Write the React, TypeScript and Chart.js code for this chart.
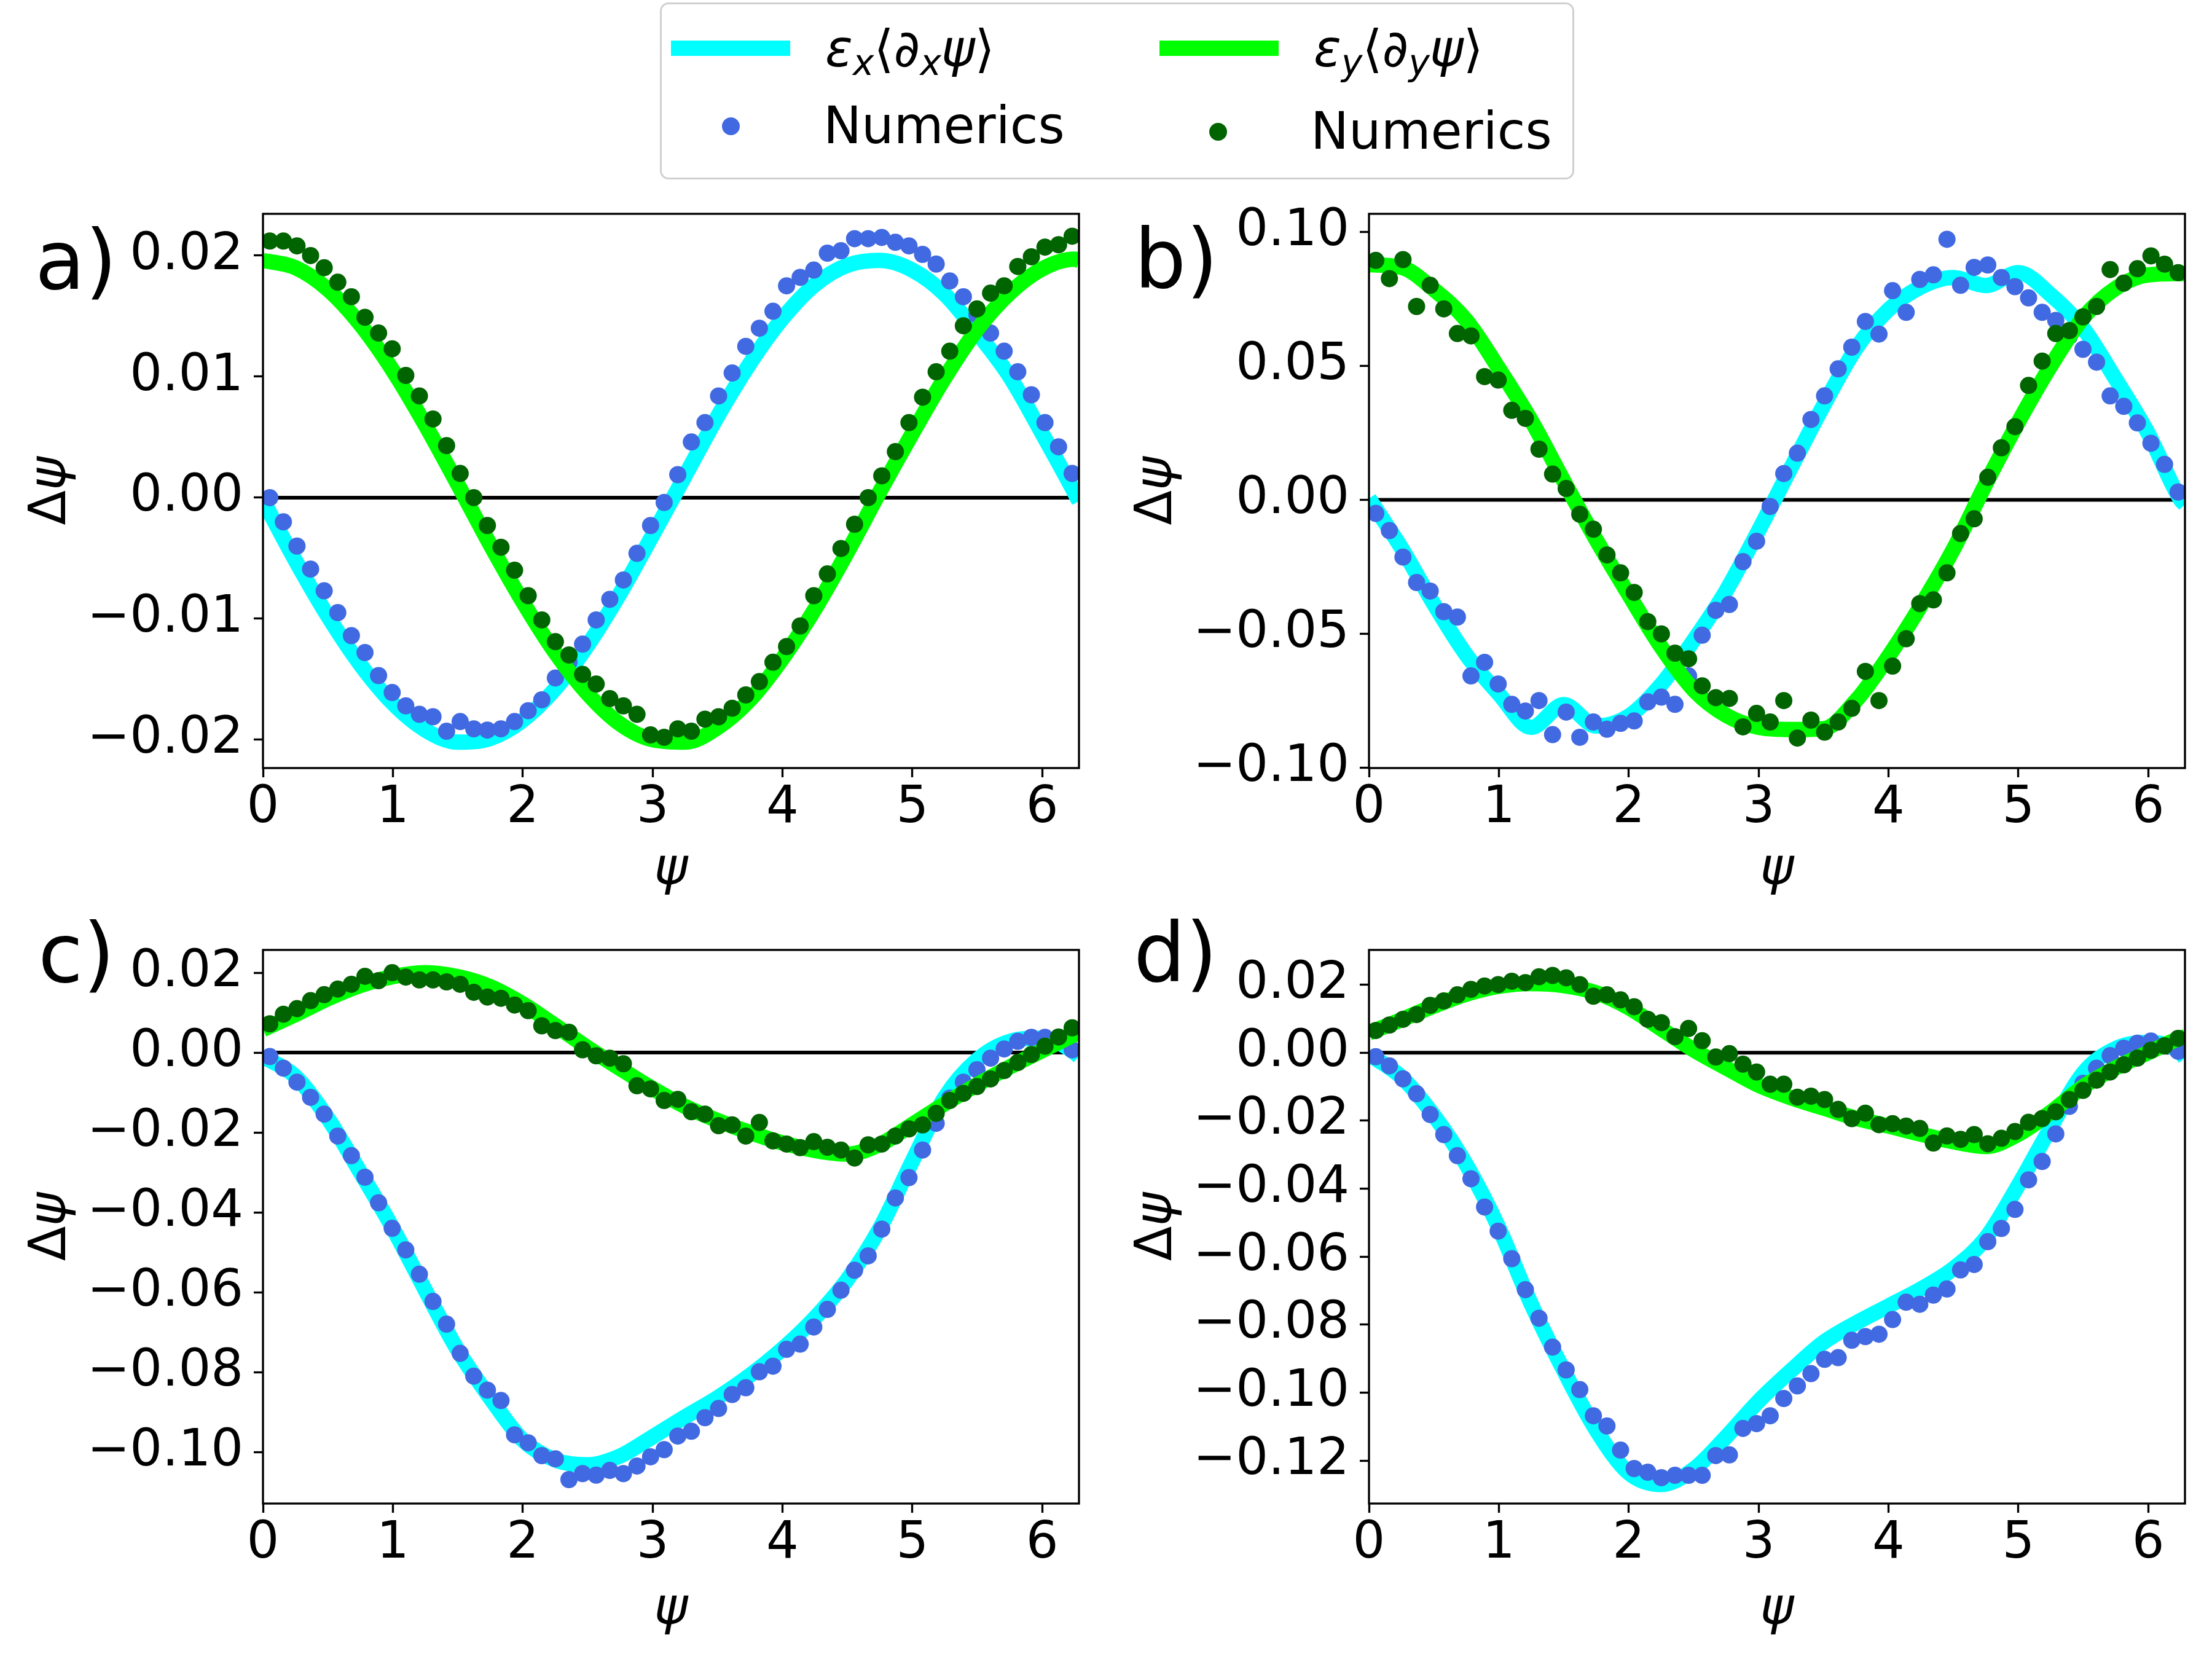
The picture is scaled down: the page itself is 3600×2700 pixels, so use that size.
import React, { useEffect, useRef } from 'react';
import { Chart, registerables } from 'chart.js';

Chart.register(...registerables);

const FONT = 'DejaVu Sans';
const X_MAX = 6.2832;
const X_TICKS = [0, 1, 2, 3, 4, 5, 6];
const ZERO_X = [0, 6.2832];
const ZERO_Y = [0, 0];
const X_TITLE = 'ψ';
const Y_TITLE_UPRIGHT = 'Δ';
const Y_TITLE_ITALIC = 'ψ';

const DOT_PSI = [
  0.0524, 0.1571, 0.2618, 0.3665, 0.4712, 0.5760, 0.6807, 0.7854, 0.8901, 0.9948,
  1.0996, 1.2043, 1.3090, 1.4137, 1.5184, 1.6232, 1.7279, 1.8326, 1.9373, 2.0420,
  2.1468, 2.2515, 2.3562, 2.4609, 2.5656, 2.6704, 2.7751, 2.8798, 2.9845, 3.0892,
  3.1940, 3.2987, 3.4034, 3.5081, 3.6128, 3.7176, 3.8223, 3.9270, 4.0317, 4.1364,
  4.2412, 4.3459, 4.4506, 4.5553, 4.6600, 4.7648, 4.8695, 4.9742, 5.0789, 5.1836,
  5.2884, 5.3931, 5.4978, 5.6025, 5.7072, 5.8120, 5.9167, 6.0214, 6.1261, 6.2308,
];

const LINE_PSI = [
  0, 0.25, 0.5, 0.75, 1.0, 1.25, 1.5, 1.75, 2.0, 2.25, 2.5, 2.75, 3.0, 3.25,
  3.5, 3.75, 4.0, 4.25, 4.5, 4.75, 5.0, 5.25, 5.5, 5.75, 6.0, 6.25, 6.2832,
];

// ---- panel a ----
const A_CYAN = [-0.0002, -0.0052, -0.0098, -0.0138, -0.0170, -0.0192, -0.0202, -0.0199, -0.0184, -0.0158, -0.0122, -0.0079, -0.0031, 0.0018, 0.0067, 0.0111, 0.0148, 0.0176, 0.0192, 0.0196, 0.0188, 0.0168, 0.0136, 0.0100, 0.0053, 0.0004, -0.0003];
const A_GREEN = [0.0196, 0.0190, 0.0172, 0.0143, 0.0105, 0.0060, 0.0011, -0.0039, -0.0086, -0.0128, -0.0162, -0.0187, -0.0200, -0.0202, -0.0190, -0.0167, -0.0133, -0.0092, -0.0045, 0.0005, 0.0053, 0.0099, 0.0139, 0.0169, 0.0189, 0.0197, 0.0196];
const A_BLUE = [
  0.0000, -0.0020, -0.0040, -0.0059, -0.0077, -0.0095, -0.0114, -0.0128, -0.0147, -0.0161,
  -0.0172, -0.0179, -0.0181, -0.0193, -0.0185, -0.0191, -0.0192, -0.0191, -0.0185, -0.0176,
  -0.0167, -0.0149, -0.0136, -0.0121, -0.0101, -0.0084, -0.0068, -0.0046, -0.0023, -0.0004,
  0.0019, 0.0046, 0.0062, 0.0084, 0.0103, 0.0125, 0.0140, 0.0154, 0.0175, 0.0182,
  0.0188, 0.0202, 0.0204, 0.0214, 0.0214, 0.0215, 0.0211, 0.0208, 0.0201, 0.0193,
  0.0179, 0.0166, 0.0151, 0.0136, 0.0121, 0.0104, 0.0085, 0.0062, 0.0042, 0.0020,
];
const A_DKGREEN = [
  0.0212, 0.0212, 0.0208, 0.0200, 0.0190, 0.0178, 0.0166, 0.0149, 0.0136, 0.0123,
  0.0101, 0.0084, 0.0065, 0.0043, 0.0020, 0.0000, -0.0023, -0.0041, -0.0060, -0.0081,
  -0.0101, -0.0119, -0.0130, -0.0146, -0.0154, -0.0166, -0.0172, -0.0179, -0.0196, -0.0198,
  -0.0191, -0.0193, -0.0183, -0.0181, -0.0174, -0.0163, -0.0152, -0.0136, -0.0123, -0.0106,
  -0.0081, -0.0063, -0.0042, -0.0022, 0.0000, 0.0018, 0.0038, 0.0062, 0.0083, 0.0104,
  0.0121, 0.0142, 0.0156, 0.0169, 0.0175, 0.0191, 0.0199, 0.0207, 0.0209, 0.0216,
];
const A_Y_TICKS = [-0.02, -0.01, 0, 0.01, 0.02];
const A_Y_MIN = -0.02234;
const A_Y_MAX = 0.02345;

// ---- panel b ----
const B_CYAN = [0.0005, -0.0180, -0.0390, -0.0580, -0.0725, -0.0850, -0.0765, -0.0845, -0.0808, -0.0690, -0.0525, -0.0340, -0.0115, 0.0120, 0.0352, 0.0565, 0.0710, 0.0795, 0.0830, 0.0800, 0.0848, 0.0765, 0.0640, 0.0450, 0.0248, 0.0000, -0.0017];
const B_GREEN = [0.0878, 0.0868, 0.0785, 0.0670, 0.0490, 0.0295, 0.0070, -0.0150, -0.0354, -0.0550, -0.0710, -0.0805, -0.0850, -0.0858, -0.0855, -0.0750, -0.0585, -0.0395, -0.0185, 0.0060, 0.0290, 0.0500, 0.0680, 0.0790, 0.0840, 0.0845, 0.0845];
const B_BLUE = [
  -0.0051, -0.0115, -0.0214, -0.0309, -0.0341, -0.0418, -0.0438, -0.0658, -0.0607, -0.0688,
  -0.0764, -0.0789, -0.0750, -0.0877, -0.0793, -0.0887, -0.0830, -0.0857, -0.0835, -0.0826,
  -0.0755, -0.0737, -0.0764, -0.0658, -0.0506, -0.0413, -0.0391, -0.0231, -0.0155, -0.0025,
  0.0098, 0.0174, 0.0300, 0.0388, 0.0489, 0.0570, 0.0666, 0.0619, 0.0781, 0.0700,
  0.0823, 0.0840, 0.0973, 0.0801, 0.0868, 0.0877, 0.0830, 0.0796, 0.0754, 0.0700,
  0.0670, 0.0610, 0.0562, 0.0514, 0.0388, 0.0349, 0.0287, 0.0211, 0.0132, 0.0029,
];
const B_DKGREEN = [
  0.0894, 0.0826, 0.0897, 0.0722, 0.0801, 0.0713, 0.0621, 0.0612, 0.0460, 0.0447,
  0.0334, 0.0304, 0.0189, 0.0096, 0.0042, -0.0054, -0.0110, -0.0206, -0.0273, -0.0346,
  -0.0455, -0.0501, -0.0573, -0.0594, -0.0695, -0.0739, -0.0742, -0.0848, -0.0798, -0.0830,
  -0.0750, -0.0890, -0.0823, -0.0868, -0.0830, -0.0779, -0.0641, -0.0750, -0.0621, -0.0519,
  -0.0388, -0.0374, -0.0273, -0.0126, -0.0071, 0.0084, 0.0194, 0.0273, 0.0427, 0.0518,
  0.0621, 0.0632, 0.0683, 0.0722, 0.0860, 0.0809, 0.0863, 0.0911, 0.0880, 0.0848,
];
const B_Y_TICKS = [-0.1, -0.05, 0, 0.05, 0.1];
const B_Y_MIN = -0.1002;
const B_Y_MAX = 0.1068;

// ---- panel c ----
const C_CYAN = [-0.0010, -0.0060, -0.0165, -0.0300, -0.0440, -0.0595, -0.0745, -0.0865, -0.0970, -0.1020, -0.1032, -0.1010, -0.0962, -0.0912, -0.0864, -0.0808, -0.0742, -0.0664, -0.0568, -0.0440, -0.0272, -0.0112, -0.0018, 0.0028, 0.0036, 0.0000, -0.0010];
const C_GREEN = [0.0058, 0.0095, 0.0135, 0.0168, 0.0190, 0.0200, 0.0190, 0.0165, 0.0122, 0.0068, 0.0012, -0.0040, -0.0090, -0.0135, -0.0170, -0.0200, -0.0226, -0.0245, -0.0254, -0.0230, -0.0180, -0.0128, -0.0080, -0.0036, 0.0005, 0.0045, 0.0050];
const C_BLUE = [
  -0.0010, -0.0039, -0.0074, -0.0112, -0.0154, -0.0209, -0.0258, -0.0312, -0.0376, -0.0440,
  -0.0494, -0.0555, -0.0623, -0.0680, -0.0753, -0.0810, -0.0845, -0.0871, -0.0957, -0.0977,
  -0.1009, -0.1017, -0.1069, -0.1054, -0.1058, -0.1046, -0.1054, -0.1035, -0.1012, -0.0994,
  -0.0960, -0.0948, -0.0914, -0.0891, -0.0856, -0.0839, -0.0799, -0.0785, -0.0743, -0.0730,
  -0.0687, -0.0643, -0.0595, -0.0545, -0.0509, -0.0442, -0.0364, -0.0313, -0.0244, -0.0177,
  -0.0114, -0.0074, -0.0043, -0.0014, 0.0009, 0.0028, 0.0038, 0.0038, 0.0028, 0.0007,
];
const C_DKGREEN = [
  0.0072, 0.0096, 0.0110, 0.0130, 0.0145, 0.0159, 0.0171, 0.0191, 0.0180, 0.0200,
  0.0189, 0.0182, 0.0182, 0.0177, 0.0171, 0.0151, 0.0139, 0.0136, 0.0119, 0.0105,
  0.0067, 0.0055, 0.0051, 0.0007, -0.0008, -0.0014, -0.0028, -0.0083, -0.0091, -0.0120,
  -0.0117, -0.0148, -0.0154, -0.0183, -0.0181, -0.0209, -0.0175, -0.0221, -0.0229, -0.0238,
  -0.0223, -0.0237, -0.0244, -0.0264, -0.0231, -0.0229, -0.0209, -0.0191, -0.0181, -0.0152,
  -0.0120, -0.0102, -0.0085, -0.0066, -0.0045, -0.0025, -0.0005, 0.0016, 0.0039, 0.0062,
];
const C_Y_TICKS = [-0.1, -0.08, -0.06, -0.04, -0.02, 0, 0.02];
const C_Y_MIN = -0.1129;
const C_Y_MAX = 0.0257;

// ---- panel d ----
const D_CYAN = [-0.0005, -0.0072, -0.0185, -0.0330, -0.0515, -0.0740, -0.0935, -0.1110, -0.1236, -0.1270, -0.1225, -0.1130, -0.1025, -0.0935, -0.0852, -0.0795, -0.0745, -0.0695, -0.0635, -0.0545, -0.0390, -0.0220, -0.0060, 0.0012, 0.0030, 0.0000, -0.0016];
const D_GREEN = [0.0058, 0.0097, 0.0137, 0.0172, 0.0195, 0.0203, 0.0197, 0.0176, 0.0132, 0.0070, 0.0008, -0.0045, -0.0096, -0.0133, -0.0163, -0.0193, -0.0216, -0.0240, -0.0262, -0.0276, -0.0240, -0.0175, -0.0100, -0.0045, 0.0000, 0.0043, 0.0046];
const D_BLUE = [
  -0.0012, -0.0039, -0.0077, -0.0121, -0.0182, -0.0241, -0.0303, -0.0371, -0.0454, -0.0525,
  -0.0606, -0.0697, -0.0781, -0.0866, -0.0933, -0.0991, -0.1068, -0.1098, -0.1169, -0.1223,
  -0.1234, -0.1250, -0.1243, -0.1243, -0.1243, -0.1185, -0.1183, -0.1105, -0.1091, -0.1068,
  -0.1017, -0.0980, -0.0944, -0.0902, -0.0897, -0.0846, -0.0835, -0.0828, -0.0785, -0.0734,
  -0.0740, -0.0713, -0.0695, -0.0639, -0.0623, -0.0556, -0.0517, -0.0461, -0.0374, -0.0320,
  -0.0239, -0.0158, -0.0090, -0.0046, -0.0009, 0.0013, 0.0028, 0.0034, 0.0020, 0.0004,
];
const D_DKGREEN = [
  0.0065, 0.0081, 0.0098, 0.0112, 0.0139, 0.0152, 0.0170, 0.0186, 0.0196, 0.0200,
  0.0210, 0.0206, 0.0223, 0.0227, 0.0220, 0.0200, 0.0166, 0.0170, 0.0155, 0.0135,
  0.0098, 0.0088, 0.0047, 0.0071, 0.0035, -0.0013, -0.0003, -0.0034, -0.0057, -0.0093,
  -0.0093, -0.0131, -0.0128, -0.0138, -0.0167, -0.0194, -0.0178, -0.0212, -0.0209, -0.0216,
  -0.0223, -0.0266, -0.0245, -0.0255, -0.0241, -0.0268, -0.0252, -0.0232, -0.0205, -0.0194,
  -0.0174, -0.0138, -0.0111, -0.0081, -0.0057, -0.0036, -0.0016, 0.0007, 0.0020, 0.0042,
];
const D_Y_TICKS = [-0.12, -0.1, -0.08, -0.06, -0.04, -0.02, 0, 0.02];
const D_Y_MIN = -0.1326;
const D_Y_MAX = 0.0302;

const CYAN = '#00ffff';
const LIME = '#00ff00';
const ROYAL = '#4169e1';
const DKGREEN = '#006400';

type PanelProps = {
  left: number; top: number; width: number; height: number;
  padTop: number; padRight: number; xAxisHeight: number; xTitlePad: number;
  cyan: number[]; green: number[]; blue: number[]; dkgreen: number[];
  yTicks: number[]; yMin: number; yMax: number;
};

const toPts = (xs: number[], ys: number[]) => xs.map((x, i) => ({ x, y: ys[i] }));
const fmtY = (v: number) => (v < 0 ? '\u2212' : '') + Math.abs(v).toFixed(2);

const framePlugin = {
  id: 'frame',
  afterDatasetsDraw(chart: any) {
    const { ctx, chartArea: a } = chart;
    ctx.save();
    ctx.strokeStyle = '#000';
    ctx.lineWidth = 3.33;
    ctx.strokeRect(a.left, a.top, a.right - a.left, a.bottom - a.top);
    ctx.restore();
  },
};

const yTitlePlugin = {
  id: 'ytitle',
  afterDraw(chart: any) {
    const { ctx, chartArea: a } = chart;
    ctx.save();
    ctx.translate(84, (a.top + a.bottom) / 2);
    ctx.rotate(-Math.PI / 2);
    ctx.fillStyle = '#000';
    ctx.textBaseline = 'middle';
    ctx.textAlign = 'left';
    const f1 = `83px "${FONT}"`;
    const f2 = `italic 83px "${FONT}"`;
    ctx.font = f1;
    const w1 = ctx.measureText(Y_TITLE_UPRIGHT).width;
    ctx.font = f2;
    const w2 = ctx.measureText(Y_TITLE_ITALIC).width;
    const x0 = -(w1 + w2) / 2;
    ctx.font = f1;
    ctx.fillText(Y_TITLE_UPRIGHT, x0, 0);
    ctx.font = f2;
    ctx.fillText(Y_TITLE_ITALIC, x0 + w1, 0);
    ctx.restore();
  },
};

function Panel(p: PanelProps) {
  const ref = useRef<HTMLCanvasElement>(null);
  useEffect(() => {
    if (!ref.current) return;
    const tickFont = { family: FONT, size: 83, lineHeight: 1 };
    const titleFont = { family: FONT, size: 83, style: 'italic' as const };
    const chart = new Chart(ref.current, {
      type: 'line',
      data: {
        datasets: [
          { data: toPts(ZERO_X, ZERO_Y), borderColor: '#000', borderWidth: 6, pointRadius: 0, order: 5, clip: 0 } as any,
          { data: toPts(LINE_PSI, p.cyan), borderColor: CYAN, borderWidth: 25, pointRadius: 0, cubicInterpolationMode: 'monotone', order: 4, clip: 0 },
          { data: toPts(DOT_PSI, p.blue), showLine: false, pointRadius: 14, pointBackgroundColor: ROYAL, pointBorderColor: ROYAL, pointBorderWidth: 0, order: 3, clip: 0 },
          { data: toPts(LINE_PSI, p.green), borderColor: LIME, borderWidth: 25, pointRadius: 0, cubicInterpolationMode: 'monotone', order: 2, clip: 0 },
          { data: toPts(DOT_PSI, p.dkgreen), showLine: false, pointRadius: 14, pointBackgroundColor: DKGREEN, pointBorderColor: DKGREEN, pointBorderWidth: 0, order: 1, clip: 0 },
        ],
      },
      options: {
        animation: false,
        responsive: false,
        maintainAspectRatio: false,
        devicePixelRatio: 1,
        events: [],
        layout: { padding: { left: 0, top: p.padTop, right: p.padRight, bottom: 0 } },
        plugins: { legend: { display: false }, tooltip: { enabled: false }, title: { display: false } },
        scales: {
          x: {
            type: 'linear',
            min: 0,
            max: X_MAX,
            afterBuildTicks: (s: any) => { s.ticks = X_TICKS.map((v) => ({ value: v })); },
            afterFit: (s: any) => { s.height = p.xAxisHeight; },
            grid: { drawOnChartArea: false, drawTicks: true, tickLength: 15, tickWidth: 3.33, tickColor: '#000' },
            border: { display: false },
            ticks: { font: tickFont, color: '#000', padding: 10, maxRotation: 0, autoSkip: false, callback: (v: any) => String(v) },
            title: { display: true, text: X_TITLE, font: titleFont, color: '#000', padding: { top: 0, bottom: p.xTitlePad } },
          },
          y: {
            type: 'linear',
            min: p.yMin,
            max: p.yMax,
            afterBuildTicks: (s: any) => { s.ticks = p.yTicks.map((v) => ({ value: v })); },
            afterFit: (s: any) => { s.width = 428; },
            grid: { drawOnChartArea: false, drawTicks: true, tickLength: 15, tickWidth: 3.33, tickColor: '#000' },
            border: { display: false },
            ticks: { font: tickFont, color: '#000', padding: 17, autoSkip: false, callback: (v: any) => fmtY(Number(v)) },
            title: { display: false },
          },
        },
      },
      plugins: [framePlugin, yTitlePlugin],
    } as any);
    return () => chart.destroy();
  }, []);
  return (
    <canvas
      ref={ref}
      width={p.width}
      height={p.height}
      style={{ position: 'absolute', left: p.left, top: p.top, width: p.width, height: p.height }}
    />
  );
}

const txtBase: React.CSSProperties = {
  position: 'absolute',
  fontFamily: FONT,
  lineHeight: 1,
  whiteSpace: 'nowrap',
  color: '#000',
};

function Sub({ c }: { c: string }) {
  return <span style={{ fontSize: 58, fontStyle: 'italic', position: 'relative', top: 14 }}>{c}</span>;
}

function MathLabel({ sub }: { sub: string }) {
  return (
    <>
      <span style={{ fontStyle: 'italic' }}>ε</span>
      <Sub c={sub} />
      <span>⟨</span>
      <span style={{ fontStyle: 'italic' }}>∂</span>
      <Sub c={sub} />
      <span style={{ fontStyle: 'italic' }}>ψ</span>
      <span>⟩</span>
    </>
  );
}

export default function App() {
  useEffect(() => {
    document.body.style.margin = '0';
  }, []);
  return (
    <div style={{ position: 'absolute', left: 0, top: 0, width: 3600, height: 2700, background: '#fff', overflow: 'hidden' }}>
      <Panel left={0} top={289} width={1800} height={1191} padTop={59} padRight={44} xAxisHeight={230} xTitlePad={13}
        cyan={A_CYAN} green={A_GREEN} blue={A_BLUE} dkgreen={A_DKGREEN} yTicks={A_Y_TICKS} yMin={A_Y_MIN} yMax={A_Y_MAX} />
      <Panel left={1800} top={289} width={1800} height={1191} padTop={59} padRight={44} xAxisHeight={230} xTitlePad={13}
        cyan={B_CYAN} green={B_GREEN} blue={B_BLUE} dkgreen={B_DKGREEN} yTicks={B_Y_TICKS} yMin={B_Y_MIN} yMax={B_Y_MAX} />
      <Panel left={0} top={1480} width={1800} height={1220} padTop={66} padRight={44} xAxisHeight={253} xTitlePad={29}
        cyan={C_CYAN} green={C_GREEN} blue={C_BLUE} dkgreen={C_DKGREEN} yTicks={C_Y_TICKS} yMin={C_Y_MIN} yMax={C_Y_MAX} />
      <Panel left={1800} top={1480} width={1800} height={1220} padTop={66} padRight={44} xAxisHeight={253} xTitlePad={29}
        cyan={D_CYAN} green={D_GREEN} blue={D_BLUE} dkgreen={D_DKGREEN} yTicks={D_Y_TICKS} yMin={D_Y_MIN} yMax={D_Y_MAX} />

      <div style={{ ...txtBase, fontSize: 133, left: 57, top: 358 }}>a)</div>
      <div style={{ ...txtBase, fontSize: 133, left: 1846, top: 356 }}>b)</div>
      <div style={{ ...txtBase, fontSize: 133, left: 62, top: 1486 }}>c)</div>
      <div style={{ ...txtBase, fontSize: 133, left: 1845, top: 1485 }}>d)</div>

      <div style={{ position: 'absolute', left: 1074, top: 4, width: 1488, height: 288, boxSizing: 'border-box', border: '3px solid #d0d0d0', borderRadius: 14, background: 'rgba(255,255,255,0.8)' }} />
      <div style={{ position: 'absolute', left: 1092, top: 66, width: 194, height: 25, background: CYAN }} />
      <div style={{ position: 'absolute', left: 1887, top: 66, width: 194, height: 25, background: LIME }} />
      <div style={{ position: 'absolute', left: 1175, top: 191, width: 29, height: 29, borderRadius: '50%', background: ROYAL }} />
      <div style={{ position: 'absolute', left: 1968, top: 200, width: 29, height: 29, borderRadius: '50%', background: DKGREEN }} />
      <div style={{ ...txtBase, fontSize: 83, left: 1343, top: 38 }}><MathLabel sub="x" /></div>
      <div style={{ ...txtBase, fontSize: 83, left: 2138, top: 38 }}><MathLabel sub="y" /></div>
      <div style={{ ...txtBase, fontSize: 83, left: 1340, top: 163 }}>Numerics</div>
      <div style={{ ...txtBase, fontSize: 83, left: 2133, top: 172 }}>Numerics</div>
    </div>
  );
}
